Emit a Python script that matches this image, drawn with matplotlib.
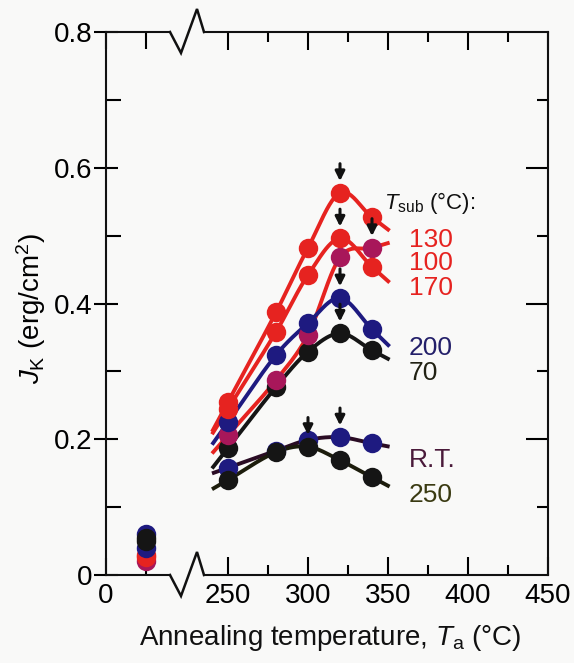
import numpy as np
import matplotlib
matplotlib.use("Agg")
import matplotlib.pyplot as plt
from matplotlib.lines import Line2D

plt.rcParams["font.family"] = ["Liberation Sans", "DejaVu Sans"]
plt.rcParams["mathtext.fontset"] = "custom"
plt.rcParams["mathtext.rm"] = "Liberation Sans"
plt.rcParams["mathtext.it"] = "Liberation Sans:italic"

# ---- data -------------------------------------------------------------
anneal_temps = [250, 280, 300, 320, 340]      # annealing temperature Ta (°C)
as_deposited_temp = 25                        # as-deposited reference point

tsub_labels = ["130", "100", "170", "200", "70", "R.T.", "250"]

jk_130 = [0.255, 0.387, 0.482, 0.563, 0.527]
jk_100 = [0.206, 0.287, 0.354, 0.468, 0.482]
jk_170 = [0.245, 0.358, 0.442, 0.496, 0.454]
jk_200 = [0.225, 0.324, 0.371, 0.408, 0.362]
jk_70 = [0.187, 0.277, 0.329, 0.356, 0.331]
jk_rt = [0.158, 0.183, 0.199, 0.203, 0.194]
jk_250 = [0.140, 0.181, 0.189, 0.169, 0.144]

jk_as_deposited = [0.030, 0.021, 0.027, 0.060, 0.055, 0.040, 0.050]

x_ticks = [250, 300, 350, 400, 450]
y_ticks = [0, 0.2, 0.4, 0.6, 0.8]
y_tick_labels = ["0", "0.2", "0.4", "0.6", "0.8"]

# ---- styles -----------------------------------------------------------
RED = "#e62320"
MAG = "#a8175a"
NAVY = "#1e1a80"
BLACK = "#151515"

series = {
    "130": dict(y=jk_130, mc=RED, lc=RED, tc=RED, z=9),
    "100": dict(y=jk_100, mc=MAG, lc=RED, tc=RED, z=6),
    "170": dict(y=jk_170, mc=RED, lc=RED, tc=RED, z=8),
    "200": dict(y=jk_200, mc=NAVY, lc=NAVY, tc="#24206a", z=7),
    "70": dict(y=jk_70, mc=BLACK, lc=BLACK, tc="#222214", z=5),
    "R.T.": dict(y=jk_rt, mc=NAVY, lc="#2a0c24", tc="#4a1a3a", z=3),
    "250": dict(y=jk_250, mc=BLACK, lc="#1c1c0c", tc="#3a3a12", z=4),
}
for lab, v in zip(tsub_labels, jk_as_deposited):
    series[lab]["y0"] = v

label_y = {"130": 0.4935, "100": 0.4597, "170": 0.4228, "200": 0.3344,
           "70": 0.2976, "R.T.": 0.1694, "250": 0.1179}


def smooth_curve(x, y, x_start, x_end, n=40):
    """Cubic Hermite curve through the points, extended linearly at both ends."""
    x = np.asarray(x, float)
    y = np.asarray(y, float)
    m = np.empty_like(y)
    m[1:-1] = (y[2:] - y[:-2]) / (x[2:] - x[:-2])
    m[0] = (y[1] - y[0]) / (x[1] - x[0])
    m[-1] = (y[-1] - y[-2]) / (x[-1] - x[-2])
    xs = [x_start]
    ys = [y[0] + m[0] * (x_start - x[0])]
    for i in range(len(x) - 1):
        h = x[i + 1] - x[i]
        t = np.linspace(0, 1, n)
        h00 = 2 * t**3 - 3 * t**2 + 1
        h10 = t**3 - 2 * t**2 + t
        h01 = -2 * t**3 + 3 * t**2
        h11 = t**3 - t**2
        xs.extend(x[i] + t * h)
        ys.extend(h00 * y[i] + h10 * h * m[i] + h01 * y[i + 1] + h11 * h * m[i + 1])
    xs.append(x_end)
    ys.append(y[-1] + m[-1] * (x_end - x[-1]))
    return np.array(xs), np.array(ys)


# ---- figure layout ----------------------------------------------------
W, H = 574, 663
fig = plt.figure(figsize=(W / 100, H / 100), dpi=100)
fig.patch.set_facecolor("#f9f9f8")

px_per_deg = 1.6
ax_bottom, ax_top = 575, 32
left_x0, left_x1 = 106, 170
right_x0, right_x1 = 204, 548

def rect(x0, x1):
    return [x0 / W, 1 - ax_bottom / H, (x1 - x0) / W, (ax_bottom - ax_top) / H]

axL = fig.add_axes(rect(left_x0, left_x1))
axR = fig.add_axes(rect(right_x0, right_x1))
for a in (axL, axR):
    a.set_facecolor("none")
    a.set_ylim(0, 0.8)
    for s in a.spines.values():
        s.set_linewidth(1.5)
        s.set_color("#111111")

axL.set_xlim(0, (left_x1 - left_x0) / px_per_deg)
axR.set_xlim(450 - (right_x1 - right_x0) / px_per_deg, 450)

axL.spines["right"].set_visible(False)
axR.spines["left"].set_visible(False)

# left axis ticks
axL.set_yticks(y_ticks, y_tick_labels)
axL.set_yticks([0.1, 0.3, 0.5, 0.7], minor=True)
axL.tick_params(axis="y", which="major", direction="inout", length=17, width=1.5,
                labelsize=20, pad=1)
axL.tick_params(axis="y", which="minor", direction="in", length=11, width=1.5)
axL.set_xticks([0, as_deposited_temp], ["0", ""])
axL.tick_params(axis="x", which="major", direction="in", length=12, width=1.5,
                top=True, labelsize=20, pad=6)

# right axis ticks
axR.set_xticks(x_ticks, [str(t) for t in x_ticks])
axR.set_xticks([275, 325, 375, 425], minor=True)
axR.tick_params(axis="x", which="major", direction="in", length=13, width=1.5,
                top=True, labelsize=20, pad=6)
axR.tick_params(axis="x", which="minor", direction="in", length=7, width=1.5, top=True)
axR.set_yticks([0.2, 0.4, 0.6])
axR.set_yticks([0.1, 0.3, 0.5, 0.7], minor=True)
axR.tick_params(axis="y", which="major", direction="in", length=16, width=1.5,
                left=False, right=True, labelleft=False)
axR.tick_params(axis="y", which="minor", direction="in", length=8, width=1.5,
                left=False, right=True)

# broken-axis zigzags on top and bottom spines
for yb in (ax_top, ax_bottom):
    zx = [left_x1, 181, 197, right_x0]
    zy = [yb, yb + 21, yb - 23, yb]
    fig.add_artist(Line2D([v / W for v in zx], [1 - v / H for v in zy],
                          transform=fig.transFigure, color="#111111", lw=1.8,
                          solid_joinstyle="miter"))

# ---- data marks ---------------------------------------------------------
MS = 14
LW = 2.8
for lab in tsub_labels:
    s = series[lab]
    xs, ys = smooth_curve(anneal_temps, s["y"], 240, 351)
    axR.plot(xs, ys, color=s["lc"], lw=LW, zorder=2, solid_capstyle="butt")

for lab in tsub_labels:
    s = series[lab]
    axR.plot(anneal_temps, s["y"], "o", color=s["mc"], ms=MS, mew=0,
             zorder=10 + s["z"], clip_on=False)
    k = int(np.argmax(s["y"]))
    axR.annotate("", xy=(anneal_temps[k], s["y"][k]), xytext=(0, 21),
                 textcoords="offset points",
                 arrowprops=dict(arrowstyle="-|>", color="#111111", lw=2.2,
                                 mutation_scale=14, shrinkA=0, shrinkB=8.5),
                 zorder=30)

# as-deposited points
order_left = ["200", "100", "170", "130", "R.T.", "250", "70"]
for i, lab in enumerate(order_left):
    s = series[lab]
    axL.plot([as_deposited_temp], [s["y0"]], "o", color=s["mc"], ms=MS, mew=0,
             zorder=10 + i, clip_on=False)

# ---- texts --------------------------------------------------------------
axR.text(347.5, 0.548, r"$T_\mathrm{sub}$ (°C):", fontsize=16, color="#111111",
         va="center", ha="left")
for lab in tsub_labels:
    axR.text(363, label_y[lab], lab, fontsize=19, color=series[lab]["tc"],
             va="center", ha="left")

axL.set_ylabel(r"$J_\mathrm{K}$ (erg/cm$^2$)", fontsize=20)
axL.yaxis.set_label_coords((48 - left_x0) / (left_x1 - left_x0), 0.49)

fig.text(330 / W, 1 - 638 / H, r"Annealing temperature, $T_\mathrm{a}$ (°C)",
         fontsize=20, ha="center", va="center", color="#111111")

fig.savefig("out.png", dpi=100, facecolor=fig.get_facecolor())
